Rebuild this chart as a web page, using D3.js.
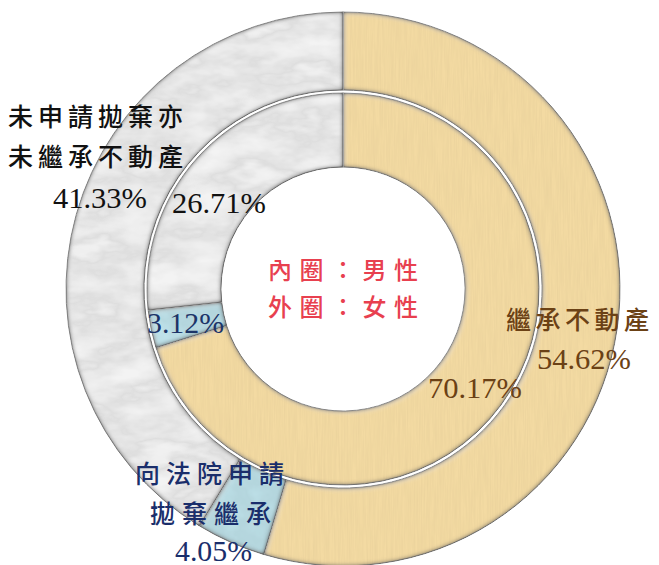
<!DOCTYPE html>
<html><head><meta charset="utf-8">
<script src="https://cdn.jsdelivr.net/npm/d3@7"></script>
<style>
html,body{margin:0;padding:0;background:#fff;}
svg{display:block;}
</style></head>
<body>
<svg id="chart" width="659" height="565"></svg>
<script>
// ---- data ----
const categories = ["繼承不動產", "向法院申請拋棄繼承", "未申請拋棄亦未繼承不動產"];
const maleValues = [70.17, 3.12, 26.71];   // inner ring
const femaleValues = [54.62, 4.05, 41.33]; // outer ring
const centerLines = ["內圈：男性", "外圈：女性"];

// ---- style ----
const baseFill = ["#f3daa2", "#c2e6ee", "#f3f3f3"];
const texFilter = ["linen", "ice", "marble"];

const svg = d3.select("#chart");
const cx = 343, cy = 289;

const defs = svg.append("defs");
function makeFilter(id, freq, table, seed, edgeOp) {
  const f = defs.append("filter").attr("id", id)
    .attr("filterUnits", "userSpaceOnUse").attr("x", -300).attr("y", -300).attr("width", 600).attr("height", 600);
  f.append("feTurbulence").attr("type", "fractalNoise").attr("baseFrequency", freq)
    .attr("numOctaves", 4).attr("seed", seed).attr("result", "noise");
  f.append("feColorMatrix").attr("in", "noise").attr("type", "saturate").attr("values", 0).attr("result", "gray");
  const ct = f.append("feComponentTransfer").attr("in", "gray").attr("result", "tex");
  ["feFuncR", "feFuncG", "feFuncB"].forEach(fn => ct.append(fn).attr("type", "table").attr("tableValues", table));
  ct.append("feFuncA").attr("type", "linear").attr("slope", 0).attr("intercept", 1);
  f.append("feComposite").attr("in", "tex").attr("in2", "SourceAlpha").attr("operator", "in").attr("result", "tex2");
  f.append("feBlend").attr("in", "SourceGraphic").attr("in2", "tex2").attr("mode", "multiply").attr("result", "textured");
  // bevel: dark inner edge
  f.append("feGaussianBlur").attr("in", "SourceAlpha").attr("stdDeviation", 2.5).attr("result", "blur");
  f.append("feComposite").attr("in", "SourceAlpha").attr("in2", "blur").attr("operator", "arithmetic")
    .attr("k1", 0).attr("k2", 2).attr("k3", -2).attr("k4", 0).attr("result", "edge");
  f.append("feFlood").attr("flood-color", "#5a5a5a").attr("flood-opacity", edgeOp).attr("result", "ec");
  f.append("feComposite").attr("in", "ec").attr("in2", "edge").attr("operator", "in").attr("result", "edgeCol");
  // highlight from top-left
  f.append("feOffset").attr("in", "blur").attr("dx", 2).attr("dy", 2).attr("result", "off");
  f.append("feComposite").attr("in", "SourceAlpha").attr("in2", "off").attr("operator", "arithmetic")
    .attr("k1", 0).attr("k2", 0.7).attr("k3", -0.7).attr("k4", 0).attr("result", "hl");
  f.append("feFlood").attr("flood-color", "#ffffff").attr("flood-opacity", 0.7).attr("result", "wc");
  f.append("feComposite").attr("in", "wc").attr("in2", "hl").attr("operator", "in").attr("result", "hlCol");
  const m = f.append("feMerge");
  m.append("feMergeNode").attr("in", "textured");
  m.append("feMergeNode").attr("in", "hlCol");
  m.append("feMergeNode").attr("in", "edgeCol");
}
makeFilter("marble", "0.018 0.04", "1 1 0.97 0.82 0.93 1 1 1", 11, 0.85);
makeFilter("linen", "0.7 0.025", "0.9 0.95 1 1", 3, 0.8);
makeFilter("ice", "0.03 0.03", "1 0.92 0.85 0.96 1", 5, 0.85);

const pie = d3.pie().sort(null).startAngle(0).endAngle(2 * Math.PI);

const rings = [
  { values: femaleValues, inner: 199, outer: 277 },
  { values: maleValues, inner: 122, outer: 196 }
];

const g = svg.append("g").attr("transform", `translate(${cx},${cy})`);

rings.forEach(ring => {
  const arc = d3.arc().innerRadius(ring.inner).outerRadius(ring.outer);
  g.append("g").selectAll("path")
    .data(pie(ring.values))
    .join("path")
    .attr("d", arc)
    .attr("fill", (d, i) => baseFill[i])
    .attr("stroke", "#6f6f6f")
    .attr("stroke-width", 0.9)
    .attr("filter", (d, i) => `url(#${texFilter[i]})`);
});

const cjk = "'Noto Sans CJK TC','Noto Sans CJK SC',sans-serif";
const num = "'Liberation Serif','DejaVu Serif',serif";
const fmt = v => d3.format(".2f")(v) + "%";

function txt(x, y, s, color, family, size, ls, weight) {
  return svg.append("text").attr("x", x).attr("y", y)
    .attr("dominant-baseline", "central")
    .attr("font-family", family).attr("font-size", size)
    .attr("font-weight", weight || 500)
    .attr("letter-spacing", ls).attr("fill", color).text(s);
}
function numTxt(x, y, v, color) {
  const s = fmt(v);
  return txt(x, y, s, color, num, 30, 0, 400)
    .attr("textLength", s.length === 6 ? 94 : 77)
    .attr("lengthAdjust", "spacingAndGlyphs");
}

// grey category (index 2)
txt(8, 115, "未申請拋棄亦", "#111", cjk, 25, 5);
txt(8, 155, "未繼承不動產", "#111", cjk, 25, 5);
numTxt(53, 197, femaleValues[2], "#111");
numTxt(172, 202, maleValues[2], "#111");

// blue category (index 1)
numTxt(147, 322, maleValues[1], "#1c3468");
txt(135, 472, "向法院申請", "#1a2e6b", cjk, 25, 6);
txt(150, 512, "拋棄繼承", "#1a2e6b", cjk, 25, 7);
numTxt(175, 550, femaleValues[1], "#1a2e6b");

// tan category (index 0)
txt(506, 318, categories[0], "#6b4115", cjk, 25, 4.5);
numTxt(537, 358, femaleValues[0], "#6b4115");
numTxt(428, 387, maleValues[0], "#6b4115");

// centre legend
txt(268, 268, centerLines[0], "#e8404f", cjk, 24, 7.5);
txt(268, 305, centerLines[1], "#e8404f", cjk, 24, 7.5);
</script>
</body></html>
